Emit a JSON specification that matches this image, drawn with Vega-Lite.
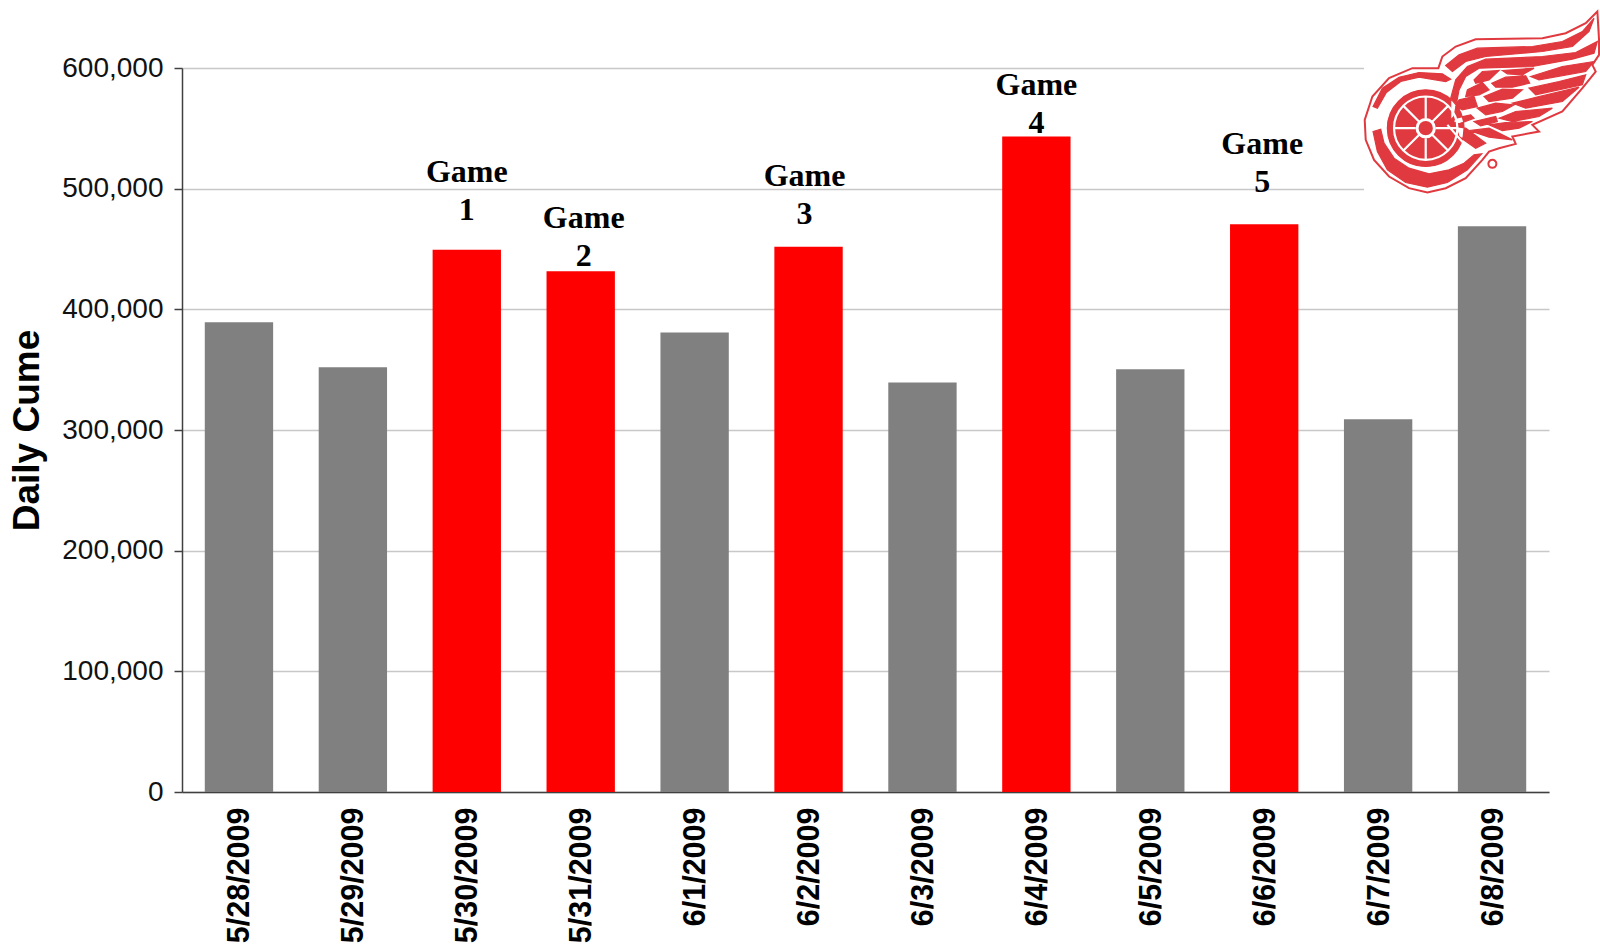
{"$schema":"https://vega.github.io/schema/vega-lite/v6.json","width":1367,"height":724,"autosize":{"type":"none"},"padding":{"left":182,"top":68,"right":51,"bottom":153},"background":"white","config":{"view":{"stroke":null}},"data":{"values":[{"date":"5/28/2009","cume":389300,"kind":"other"},{"date":"5/29/2009","cume":352000,"kind":"other"},{"date":"5/30/2009","cume":449400,"kind":"game","label":"Game 1","labelPos":505900},{"date":"5/31/2009","cume":431600,"kind":"game","label":"Game 2","labelPos":467500},{"date":"6/1/2009","cume":380800,"kind":"other"},{"date":"6/2/2009","cume":451900,"kind":"game","label":"Game 3","labelPos":502300},{"date":"6/3/2009","cume":339400,"kind":"other"},{"date":"6/4/2009","cume":543300,"kind":"game","label":"Game 4","labelPos":577800},{"date":"6/5/2009","cume":350400,"kind":"other"},{"date":"6/6/2009","cume":470500,"kind":"game","label":"Game 5","labelPos":528900},{"date":"6/7/2009","cume":308900,"kind":"other"},{"date":"6/8/2009","cume":468800,"kind":"other"}]},"encoding":{"x":{"field":"date","type":"nominal","sort":null,"scale":{"paddingInner":0.4,"paddingOuter":0.2},"axis":{"title":null,"labelAngle":-90,"labelFont":"Liberation Sans","labelFontWeight":"bold","labelFontSize":30.5,"labelColor":"black","labelPadding":15,"labelAlign":"right","labelBaseline":"middle","labelOffset":1.5,"ticks":false,"domainColor":"#404040","domainWidth":1.5,"grid":false,"labelOverlap":false,"labelBound":false}}},"layer":[{"mark":{"type":"bar"},"encoding":{"y":{"field":"cume","type":"quantitative","scale":{"domain":[0,600000],"nice":false},"axis":{"title":"Daily Cume","titleFont":"Liberation Sans","titleFontWeight":"bold","titleFontSize":37,"titleColor":"black","titlePadding":15,"values":[0,100000,200000,300000,400000,500000,600000],"format":",.0f","labelFont":"Liberation Sans","labelFontSize":28,"labelColor":"#111111","labelPadding":11,"tickSize":8,"tickColor":"#404040","tickWidth":1.5,"domainColor":"#404040","domainWidth":1.5,"grid":true,"gridColor":"#c8c8c8","gridWidth":1.5}},"color":{"field":"kind","type":"nominal","legend":null,"scale":{"domain":["other","game"],"range":["#808080","#ff0000"]}}}},{"transform":[{"filter":"datum.label==='Game 1'||datum.label==='Game 4'"}],"mark":{"type":"text","font":"Liberation Serif","fontWeight":"bold","fontSize":32,"lineBreak":" ","lineHeight":38,"baseline":"alphabetic","align":"center","color":"black"},"encoding":{"y":{"field":"labelPos","type":"quantitative"},"text":{"field":"label"}}},{"transform":[{"filter":"datum.label==='Game 2'"}],"mark":{"type":"text","dx":3,"font":"Liberation Serif","fontWeight":"bold","fontSize":32,"lineBreak":" ","lineHeight":38,"baseline":"alphabetic","align":"center","color":"black"},"encoding":{"y":{"field":"labelPos","type":"quantitative"},"text":{"field":"label"}}},{"transform":[{"filter":"datum.label==='Game 3'"}],"mark":{"type":"text","dx":-4,"font":"Liberation Serif","fontWeight":"bold","fontSize":32,"lineBreak":" ","lineHeight":38,"baseline":"alphabetic","align":"center","color":"black"},"encoding":{"y":{"field":"labelPos","type":"quantitative"},"text":{"field":"label"}}},{"transform":[{"filter":"datum.label==='Game 5'"}],"mark":{"type":"text","dx":-2,"font":"Liberation Serif","fontWeight":"bold","fontSize":32,"lineBreak":" ","lineHeight":38,"baseline":"alphabetic","align":"center","color":"black"},"encoding":{"y":{"field":"labelPos","type":"quantitative"},"text":{"field":"label"}}},{"data":{"values":[{"date":"6/8/2009","logoAnchor":573600}]},"mark":{"type":"point","filled":true,"opacity":1,"fill":"white","stroke":null,"size":0.4444,"shape":"M-384 -300L321 -300L321 290L-384 290Z"},"encoding":{"y":{"field":"logoAnchor","type":"quantitative"}}},{"data":{"values":[{"date":"6/8/2009","logoAnchor":573600}]},"mark":{"type":"point","filled":true,"opacity":1,"fill":"white","stroke":"#e0393f","strokeWidth":2,"size":0.4444,"shape":"M316 -265L281 -230L221 -200L151 -185L-49 -182L-109 -160L-149 -130L-161 -95L-239 -95L-309 -65L-359 -10L-382 60L-379 120L-354 180L-309 230L-249 265L-194 278L-139 265L-79 235L-29 180L-9 155L21 145L71 132L61 110L141 95L121 75L211 35L271 -35L311 -85L301 -105L321 -135L321 -180Z M-11 192a12 12 0 1 0 24 0a12 12 0 1 0 -24 0Z"},"encoding":{"y":{"field":"logoAnchor","type":"quantitative"}}},{"data":{"values":[{"date":"6/8/2009","logoAnchor":573600}]},"mark":{"type":"point","filled":true,"opacity":1,"fill":"#e0393f","stroke":"#e0393f","strokeWidth":1.2,"size":0.4444,"shape":"M-357 95L-334 88L-324 130L-294 175L-249 205L-189 222L-129 210L-84 190L-54 165L-31 162L-74 210L-134 248L-194 262L-259 248L-314 210L-344 155Z M-357 20L-329 -35L-279 -68L-219 -82L-149 -78L-124 -62L-139 -55L-219 -68L-274 -55L-317 -22L-344 25Z M-314 85a115 115 0 1 0 230 0a115 115 0 1 0 -230 0Z M-139 -103L-99 -135L-44 -155L121 -160L211 -175L271 -205L306 -245L291 -205L241 -160L151 -145L-19 -130L-79 -115L-119 -85Z M-124 -5L-109 -60L-74 -100L-19 -122L151 -130L251 -142L316 -175L306 -140L241 -122L121 -100L-39 -95L-79 -70L-99 -30L-114 50L-124 60Z M-54 -60L-29 -85L21 -88L-9 -60L-49 -50Z M31 -88L126 -95L91 -75L46 -78Z M-1 -50L41 -68L101 -72L113 -50L61 -38L11 -38Z M116 -70L211 -100L306 -115L281 -85L141 -60Z M-74 -30L-29 -52L-9 -30L-39 -15L-79 -10Z M-24 -10L31 -32L91 -30L61 -5L-9 5Z M111 -35L201 -55L281 -75L271 -45L131 -15Z M-99 0L-54 -10L-44 20L-89 30L-109 20Z M-44 25L11 10L66 15L31 35L-19 45Z M61 10L141 -10L261 -38L211 5L101 25Z M-109 55L-64 45L-54 55L-99 72L-117 65Z M21 55L71 35L181 25L141 50L61 65Z M-54 65L11 50L16 65L-34 78Z M-9 75L41 68L121 65L81 85L31 92Z M-69 92L-9 85L61 120L-9 112Z M-109 80L-79 85L-19 130L-49 145L-99 110Z"},"encoding":{"y":{"field":"logoAnchor","type":"quantitative"}}},{"data":{"values":[{"date":"6/8/2009","logoAnchor":573600}]},"mark":{"type":"point","filled":false,"opacity":1,"stroke":"white","strokeWidth":2.2,"size":0.4444,"shape":"M-294 85a95 95 0 1 0 190 0a95 95 0 1 0 -190 0Z M-199 55L-199 -10M-199 115L-199 180M-229 85L-294 85M-169 85L-104 85M-220 64L-266 18M-178 106L-132 152M-220 106L-266 152M-178 64L-132 18M-244 40L-154 130M-154 40L-244 130M-134 75L-59 160"},"encoding":{"y":{"field":"logoAnchor","type":"quantitative"}}},{"data":{"values":[{"date":"6/8/2009","logoAnchor":573600}]},"mark":{"type":"point","filled":true,"opacity":1,"fill":"#e0393f","stroke":"white","strokeWidth":3,"size":0.4444,"shape":"M-225 85a26 26 0 1 0 52 0a26 26 0 1 0 -52 0Z"},"encoding":{"y":{"field":"logoAnchor","type":"quantitative"}}}]}
